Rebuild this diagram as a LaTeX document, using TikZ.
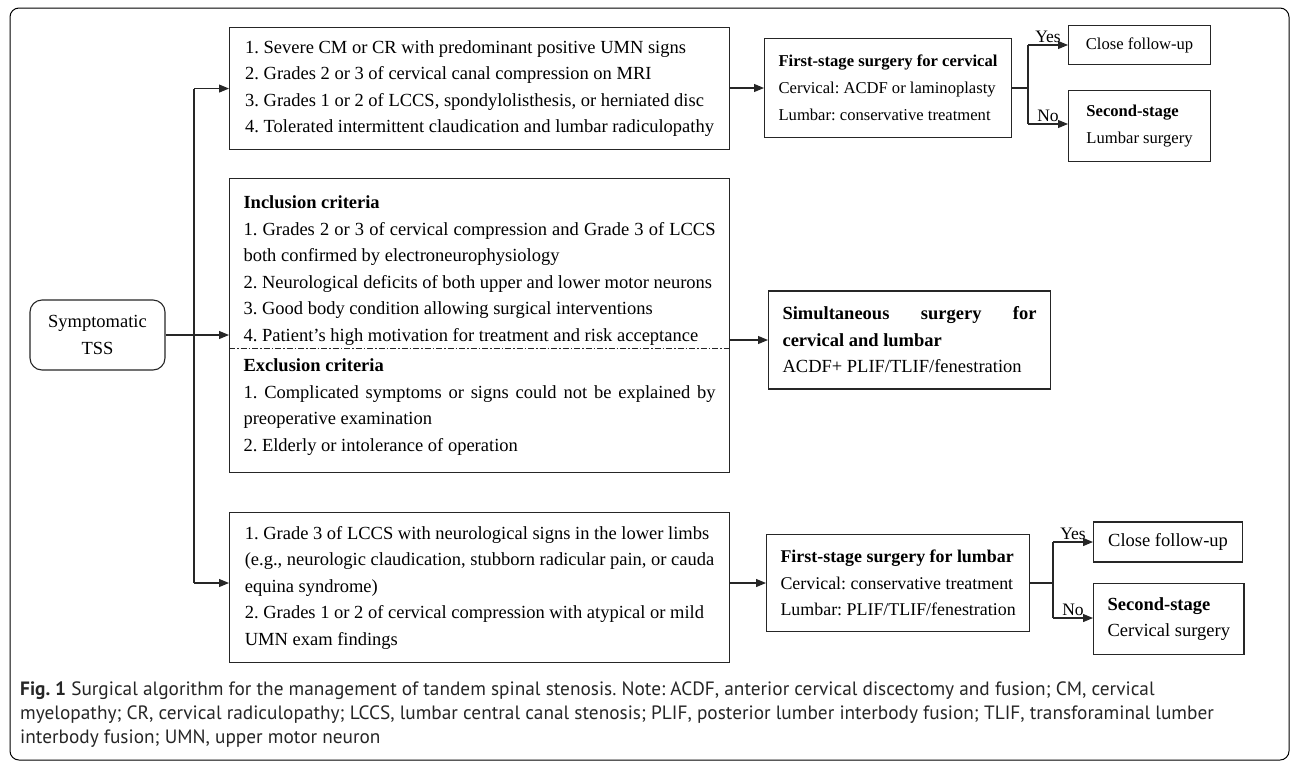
\documentclass[tikz,border=0pt]{standalone}
\usepackage{fontspec}
\setmainfont{Liberation Serif}
\newfontfamily\capfont{PT Sans}
\usetikzlibrary{arrows.meta,calc}
\begin{document}
\frenchspacing
\begin{tikzpicture}[x=1pt,y=-1pt,
  every node/.style={inner sep=0pt},
  box/.style={draw=black!85, line width=1.1pt, inner xsep=14pt, inner ysep=0pt, anchor=north west, align=left, font=\fontsize{18.5}{26.5}\selectfont\frenchspacing},
  jbox/.style={box, align=justify},
  fsmall/.style={font=\fontsize{16.6}{27}\selectfont\frenchspacing},
  fmid/.style={font=\fontsize{17.9}{26.5}\selectfont\frenchspacing},
  conn/.style={draw=black!85, line width=1.1pt},
  arr/.style={conn, -{Triangle[length=10pt,width=8pt]}},
  lbl/.style={font=\fontsize{17.5}{20}\selectfont, inner sep=2pt},
  captxt/.style={anchor=west, font=\capfont\fontsize{19.3}{22}\selectfont\frenchspacing, inner sep=0pt, text=black!85},
]
\useasboundingbox (0,0) rectangle (1290,761);
\draw[line width=1pt, rounded corners=9pt] (10,8) rectangle (1289,760);

% start node
\node[box, anchor=center, rounded corners=12pt, align=center, minimum width=135pt, minimum height=70pt] (S) at (97.5,335) {Symptomatic\\TSS};

% left column
\node[box, minimum width=500pt, minimum height=122pt] (A) at (229,27) {1. Severe CM or CR with predominant positive UMN signs\\2. Grades 2 or 3 of cervical canal compression on MRI\\3. Grades 1 or 2 of LCCS, spondylolisthesis, or herniated disc\\4. Tolerated intermittent claudication and lumbar radiculopathy};

\node[jbox, text width=472pt, minimum height=294pt] (B) at (229,178) {\textbf{Inclusion criteria}\\
1. Grades 2 or 3 of cervical compression and Grade 3 of LCCS\linebreak both confirmed by electroneurophysiology\\
2. Neurological deficits of both upper and lower motor neurons\\
3. Good body condition allowing surgical interventions\\
4. Patient’s high motivation for treatment and risk acceptance\\[4pt]
\textbf{Exclusion criteria}\\
1. Complicated symptoms or signs could not be explained by\linebreak preoperative examination\\
2. Elderly or intolerance of operation};

\node[box, minimum width=500pt, minimum height=150pt] (C) at (229,512) {1. Grade 3 of LCCS with neurological signs in the lower limbs\\(e.g., neurologic claudication, stubborn radicular pain, or cauda\\equina syndrome)\\2. Grades 1 or 2 of cervical compression with atypical or mild\\UMN exam findings};

\coordinate (dl) at (0,348);
\draw[conn, line width=0.9pt, dash pattern=on 6pt off 2pt on 1.5pt off 2pt] (B.west |- dl) -- (B.east |- dl);

% trunk
\coordinate (T) at (194,0);
\coordinate (cy) at (0,583);
\draw[conn] (T |- A.west) -- (T |- cy);
\draw[arr] (T |- A.west) -- (A.west);
\draw[arr] (T |- cy) -- (C.west |- cy);
\draw[arr] (S.east) -- (B.west |- S.east);

% right column
\node[box, fsmall, anchor=west, minimum height=99pt] (F1) at (764,88) {\textbf{First-stage surgery for cervical}\\Cervical: ACDF or laminoplasty\\Lumbar: conservative treatment};
\node[jbox, anchor=west, text width=254pt, minimum height=98pt] (Sim) at (768,340) {\textbf{Simultaneous surgery for\linebreak cervical and lumbar}\\ACDF+ PLIF/TLIF/fenestration};
\node[box, fmid, anchor=west, minimum height=97pt] (F2) at (766,583) {\textbf{First-stage surgery for lumbar}\\Cervical: conservative treatment\\Lumbar: PLIF/TLIF/fenestration};

\draw[arr] (A.east |- F1.west) -- (F1.west);
\draw[arr] (B.east |- Sim.west) -- (Sim.west);
\draw[arr] (C.east |- F2.west) -- (F2.west);

% outcome boxes top
\node[box, fsmall, anchor=west, minimum width=142pt, minimum height=39pt] (Y1) at (1068,45) {Close follow-up};
\node[box, fsmall, anchor=north west, minimum width=142pt, minimum height=71pt] (N1) at (1068,90) {\textbf{Second-stage}\\Lumbar surgery};
\coordinate (J1) at (1028,0);
\coordinate (n1) at (0,124);
\draw[conn] (F1.east) -- (J1 |- F1.east);
\draw[conn] (J1 |- Y1.west) -- (J1 |- n1);
\draw[arr] (J1 |- Y1.west) -- (Y1.west) node[lbl, midway, above] (yes1) {Yes};
\draw[arr] (J1 |- n1) -- (N1.west |- n1) node[lbl, midway, above] (no1) {No};

% outcome boxes bottom
\node[box, anchor=west, minimum width=149pt, minimum height=40pt] (Y2) at (1093,542) {Close follow-up};
\node[box, anchor=north west, minimum width=149pt, minimum height=71pt] (N2) at (1093,583) {\textbf{Second-stage}\\Cervical surgery};
\coordinate (J2) at (1053,0);
\coordinate (n2) at (0,618);
\draw[conn] (F2.east) -- (J2 |- F2.east);
\draw[conn] (J2 |- Y2.west) -- (J2 |- n2);
\draw[arr] (J2 |- Y2.west) -- (Y2.west) node[lbl, midway, above] (yes2) {Yes};
\draw[arr] (J2 |- n2) -- (N2.west |- n2) node[lbl, midway, above] (no2) {No};

% caption
\node[captxt] (cap1) at (20,691) {\textbf{Fig. 1} Surgical algorithm for the management of tandem spinal stenosis. Note: ACDF, anterior cervical discectomy and fusion; CM, cervical};
\node[captxt] (cap2) at (20,715) {myelopathy; CR, cervical radiculopathy; LCCS, lumbar central canal stenosis; PLIF, posterior lumber interbody fusion; TLIF, transforaminal lumber};
\node[captxt] (cap3) at (20,739) {interbody fusion; UMN, upper motor neuron};
\end{tikzpicture}
\end{document}
